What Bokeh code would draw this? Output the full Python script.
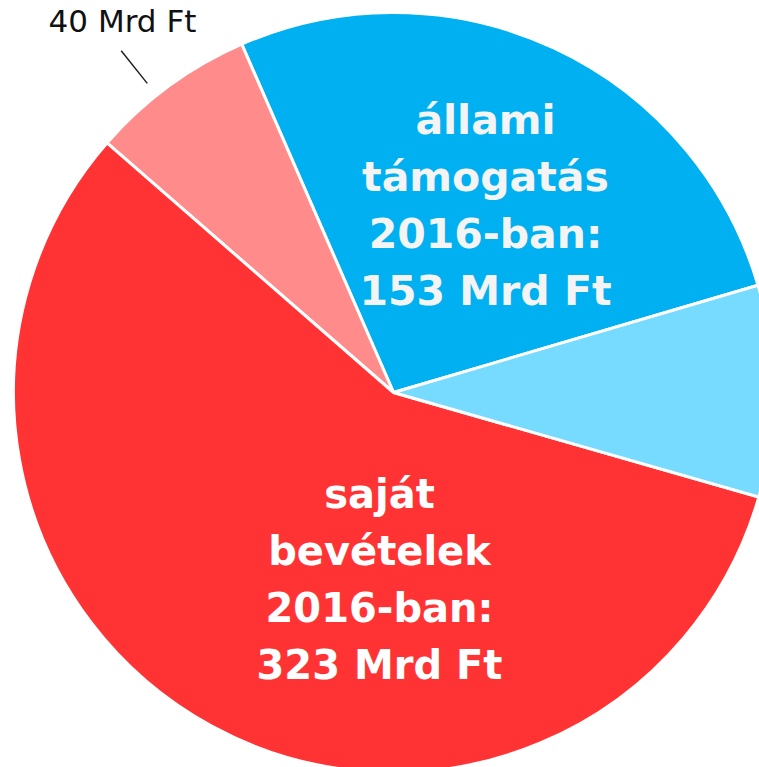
import math
from bokeh.plotting import figure
from bokeh.models import Range1d, ColumnDataSource
from bokeh.core.properties import value
from bokeh.embed import file_html
from bokeh.resources import INLINE

# ---- data ----
categories = ["állami támogatás", "egyéb állami", "saját bevételek", "egyéb saját"]
values = [153, 51, 323, 40]          # Mrd Ft
colors = ["#00b0f0", "#77dbff", "#ff3333", "#ff8b8b"]
blue_label = ["állami", "támogatás", "2016-ban:", "153 Mrd Ft"]
red_label = ["saját", "bevételek", "2016-ban:", "323 Mrd Ft"]
pink_label = "40 Mrd Ft"

# ---- geometry: data x = picture x, data y = 767 - picture y ----
W, H = 759, 767
cx, cy, R = 393, 767 - 392, 380
start_deg = 16.4   # blue slice starts here, counter-clockwise: blue, pink, red, light blue

order = [0, 3, 2, 1]
total = sum(values)
starts, ends, cols = [], [], []
a = math.radians(start_deg)
angles = {}
for i in order:
    span = values[i] / total * 2 * math.pi
    starts.append(a)
    ends.append(a + span)
    cols.append(colors[i])
    angles[i] = (a, a + span)
    a += span

p = figure(width=W, height=H, x_range=Range1d(0, W), y_range=Range1d(767 - H, 767),
           output_backend="svg", toolbar_location=None, min_border=0,
           x_axis_type=None, y_axis_type=None, outline_line_color=None)
p.grid.visible = False
p.background_fill_color = "white"
p.border_fill_color = "white"

src = ColumnDataSource(dict(x=[cx] * 4, y=[cy] * 4, s=starts, e=ends, c=cols))
p.wedge(x="x", y="y", radius=R, start_angle="s", end_angle="e", fill_color="c",
        line_color="white", line_width=3, source=src)

font = value("DejaVu Sans")
lh = 57
bx, by0 = 485, 767 - 119
p.text(x=[bx] * 4, y=[by0 - k * lh for k in range(4)], text=blue_label,
       text_font=font, text_font_size="41px", text_font_style="bold",
       text_color="#f4f4f4", text_align="center", text_baseline="middle")
rx, ry0 = 379, 767 - 493
p.text(x=[rx] * 4, y=[ry0 - k * lh for k in range(4)], text=red_label,
       text_font=font, text_font_size="40px", text_font_style="bold",
       text_color="#ffffff", text_align="center", text_baseline="middle")

pa, pb = angles[3]
mid = (pa + pb) / 2 + math.radians(2.3)
r1, r2 = R * 1.04, R * 1.15
p.line(x=[cx + r1 * math.cos(mid), cx + r2 * math.cos(mid)],
       y=[cy + r1 * math.sin(mid), cy + r2 * math.sin(mid)],
       line_color="#222222", line_width=1.5)
p.text(x=[122], y=[767 - 20], text=[pink_label], text_font=font,
       text_font_size="31px", text_color="#111111", text_align="center",
       text_baseline="middle")

open("out.html", "w").write(file_html(p, INLINE))
